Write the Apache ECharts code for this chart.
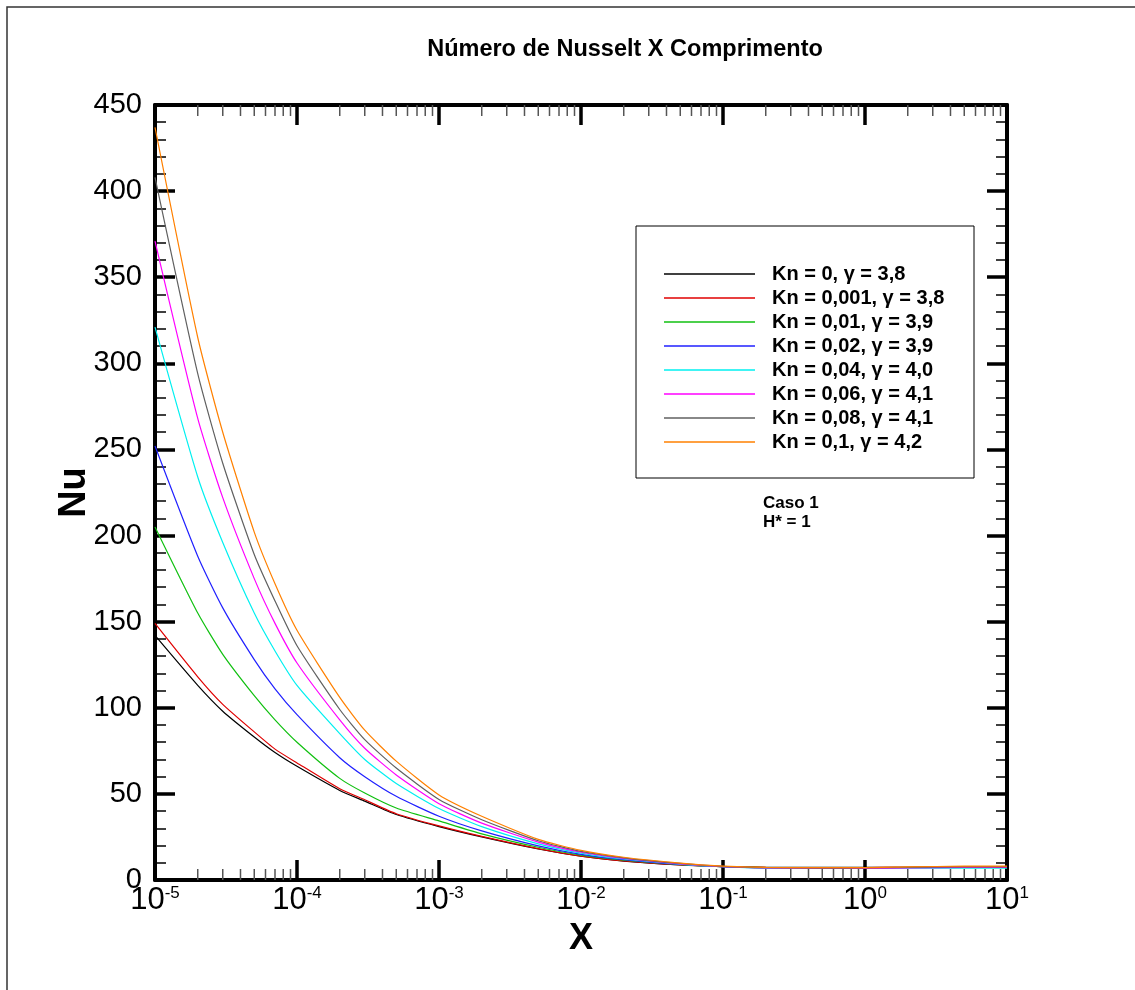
<!DOCTYPE html>
<html>
<head>
<meta charset="utf-8">
<script src="https://cdn.jsdelivr.net/npm/echarts@6.0.0/dist/echarts.min.js"></script>
<style>
  html, body { margin: 0; padding: 0; background: #fff; }
  #main { width: 1135px; height: 990px; }
</style>
</head>
<body>
<div id="main"></div>
<script>
var chart = echarts.init(document.getElementById('main'));

// comprimento adimensional X
var xs = [1e-5, 2e-5, 3e-5, 5e-5, 7e-5, 1e-4, 2e-4, 3e-4, 5e-4, 1e-3, 2e-3, 5e-3, 1e-2, 2e-2, 5e-2, 0.1, 0.2, 0.5, 1, 2, 5, 10];

// Nu para cada caso
var nuKn0    = [142, 113, 98, 83, 74, 66, 52, 45.8, 38, 31, 25, 18, 13.8, 11, 8.7, 7.8, 7.4, 7.3, 7.3, 7.4, 7.6, 7.6];
var nuKn0001 = [149, 118, 102, 86, 76, 68, 53, 46.6, 38.5, 31.4, 25.3, 18.2, 13.9, 11.1, 8.7, 7.8, 7.3, 7.2, 7.2, 7.4, 7.6, 7.6];
var nuKn001  = [205, 155, 131, 107, 93, 80, 59, 50.5, 41.8, 34.3, 26.8, 19, 14.4, 11.5, 8.9, 7.8, 7.2, 7.0, 7.0, 7.2, 7.4, 7.4];
var nuKn002  = [252, 188, 158, 128, 111, 96, 71, 60, 48.6, 37, 28.5, 19.8, 14.9, 11.8, 9.0, 7.7, 7.0, 6.9, 6.9, 7.1, 7.3, 7.3];
var nuKn004  = [321, 234, 196, 155, 133, 113, 85, 70, 56, 41.5, 31, 21, 15.6, 12.2, 9.2, 7.7, 6.9, 6.8, 6.8, 6.9, 6.9, 6.9];
var nuKn006  = [371, 268, 222, 175, 149, 126, 93, 76.5, 61, 44.3, 33, 22, 16.1, 12.5, 9.4, 7.8, 7.0, 6.8, 6.8, 7.0, 7.3, 7.3];
var nuKn008  = [408, 294, 242, 189, 162, 136, 99, 81.5, 65, 46.8, 35, 22.8, 16.6, 12.9, 9.6, 7.9, 7.1, 6.9, 7.0, 7.3, 7.6, 7.6];
var nuKn01   = [437, 315, 260, 202, 172, 145, 106, 87, 69, 49.4, 37, 23.6, 17.2, 13.2, 9.8, 8.1, 7.3, 7.2, 7.2, 7.6, 8.0, 8.0];

var names = [
  'Kn = 0, \u03b3 = 3,8',
  'Kn = 0,001, \u03b3 = 3,8',
  'Kn = 0,01, \u03b3 = 3,9',
  'Kn = 0,02, \u03b3 = 3,9',
  'Kn = 0,04, \u03b3 = 4,0',
  'Kn = 0,06, \u03b3 = 4,1',
  'Kn = 0,08, \u03b3 = 4,1',
  'Kn = 0,1, \u03b3 = 4,2'
];
var values = [nuKn0, nuKn0001, nuKn001, nuKn002, nuKn004, nuKn006, nuKn008, nuKn01];
var colors = ['#000000', '#e00000', '#10c010', '#2020ff', '#00f0f0', '#ff00ff', '#606060', '#ff8000'];

// decadas do eixo X (ticks maiores) e ticks menores 2..9
var decades = [1e-5, 1e-4, 1e-3, 1e-2, 1e-1, 1, 10];
var minorX = [];
for (var d = 0; d < decades.length - 1; d++) {
  for (var m = 2; m <= 9; m++) minorX.push(decades[d] * m);
}

var FONT = 'Liberation Sans, Arial, Helvetica, sans-serif';

function pairs(ys) {
  return xs.map(function (x, i) { return [x, ys[i]]; });
}

var series = values.map(function (v, i) {
  return {
    name: names[i],
    type: 'line',
    data: pairs(v),
    symbol: 'none',
    smooth: 0.2,
    clip: true,
    lineStyle: { color: colors[i], width: 1.2 },
    itemStyle: { color: colors[i] },
    z: 3
  };
});

// ticks menores logaritmicos (embaixo e em cima)
series.push({
  type: 'custom',
  silent: true,
  clip: false,
  z: 5,
  data: minorX.map(function (x) { return [x]; }),
  renderItem: function (params, api) {
    var b = api.coord([api.value(0), 0]);
    var t = api.coord([api.value(0), 450]);
    var st = { stroke: '#555', lineWidth: 1.5 };
    return {
      type: 'group',
      children: [
        { type: 'line', shape: { x1: b[0], y1: b[1], x2: b[0], y2: b[1] - 11 }, style: st },
        { type: 'line', shape: { x1: t[0], y1: t[1], x2: t[0], y2: t[1] + 11 }, style: st }
      ]
    };
  }
});

var option = {
  backgroundColor: '#fff',
  animation: false,
  textStyle: { fontFamily: FONT },
  grid: { left: 155, top: 105, right: 128, bottom: 110, containLabel: false },
  legend: {
    orient: 'vertical',
    left: 659,
    top: 257,
    data: names,
    icon: 'rect',
    itemWidth: 91,
    itemHeight: 1.5,
    itemGap: 0,
    selectedMode: false,
    textStyle: {
      fontFamily: FONT, fontSize: 20, fontWeight: 'bold', color: '#000',
      lineHeight: 24, padding: [0, 0, 0, 12]
    }
  },
  xAxis: [{
    type: 'log',
    logBase: 10,
    min: 1e-5,
    max: 10,
    position: 'bottom',
    name: 'X',
    nameLocation: 'middle',
    nameGap: 36,
    nameTextStyle: { fontFamily: FONT, fontSize: 36, fontWeight: 'bold', color: '#000' },
    axisLine: { onZero: false, lineStyle: { color: '#000', width: 4 } },
    axisTick: { inside: true, length: 20, lineStyle: { color: '#000', width: 3.5 } },
    minorTick: { show: false },
    splitLine: { show: false },
    axisLabel: {
      margin: 5,
      formatter: function (v) {
        var e = Math.round(Math.log(v) / Math.LN10);
        return '{b|10}{s|' + e + '}';
      },
      rich: {
        b: { fontFamily: FONT, fontSize: 31, color: '#000', verticalAlign: 'bottom' },
        s: { fontFamily: FONT, fontSize: 17, color: '#000', verticalAlign: 'top' }
      }
    }
  }, {
    type: 'log',
    logBase: 10,
    min: 1e-5,
    max: 10,
    position: 'top',
    axisLine: { onZero: false, lineStyle: { color: '#000', width: 4 } },
    axisTick: { inside: true, length: 20, lineStyle: { color: '#000', width: 3.5 } },
    axisLabel: { show: false },
    splitLine: { show: false }
  }],
  yAxis: [{
    type: 'value',
    min: 0,
    max: 450,
    interval: 50,
    position: 'left',
    name: 'Nu',
    nameLocation: 'middle',
    nameGap: 61,
    nameMoveOverlap: false,
    nameRotate: 90,
    nameTextStyle: { fontFamily: FONT, fontSize: 38, fontWeight: 'bold', color: '#000' },
    axisLine: { show: true, onZero: false, lineStyle: { color: '#000', width: 4 } },
    axisTick: { inside: true, length: 20, lineStyle: { color: '#000', width: 3.5 } },
    minorTick: { show: true, splitNumber: 5, length: 11, lineStyle: { color: '#000', width: 1.5 } },
    splitLine: { show: false },
    axisLabel: { margin: 13, fontFamily: FONT, fontSize: 29, color: '#000' }
  }, {
    type: 'value',
    min: 0,
    max: 450,
    interval: 50,
    position: 'right',
    axisLine: { show: true, onZero: false, lineStyle: { color: '#000', width: 4 } },
    axisTick: { inside: true, length: 20, lineStyle: { color: '#000', width: 3.5 } },
    minorTick: { show: true, splitNumber: 5, length: 11, lineStyle: { color: '#000', width: 1.5 } },
    splitLine: { show: false },
    axisLabel: { show: false }
  }],
  graphic: [
    {
      type: 'polyline', silent: true,
      shape: { points: [[7, 990], [7, 7], [1135, 7]] },
      style: { stroke: '#333', lineWidth: 1.5, fill: null }
    },
    {
      type: 'text', silent: true, x: 625, y: 50,
      style: {
        text: 'Número de Nusselt X Comprimento',
        fontFamily: FONT, fontSize: 23.5, fontWeight: 'bold', fill: '#000',
        align: 'center', verticalAlign: 'middle'
      }
    },
    {
      type: 'rect', silent: true, z: 1,
      shape: { x: 636, y: 226, width: 338, height: 252 },
      style: { stroke: '#000', lineWidth: 1, fill: '#fff' }
    },
    {
      type: 'text', silent: true, x: 763, y: 494,
      style: {
        text: 'Caso 1\nH* = 1',
        fontFamily: FONT, fontSize: 17, fontWeight: 'bold', fill: '#000',
        lineHeight: 19, align: 'left', verticalAlign: 'top'
      }
    }
  ],
  series: series
};

chart.setOption(option);
</script>
</body>
</html>
